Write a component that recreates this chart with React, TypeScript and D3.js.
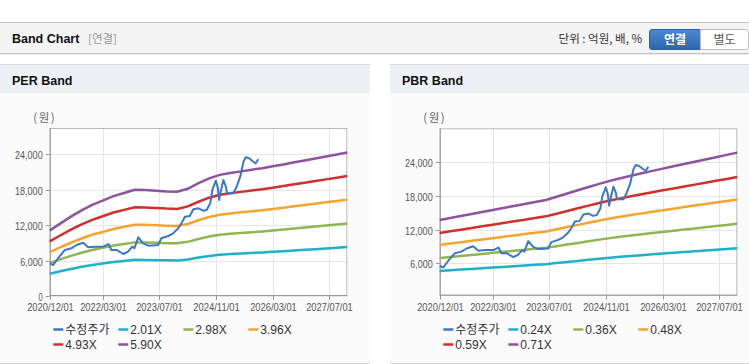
import * as d3 from 'd3';

// quarterly band base values (EPS / BPS)
const bandDates = [
  '2020-12-01', '2021-03-01', '2021-06-01', '2021-09-01', '2021-12-01',
  '2022-03-01', '2022-06-01', '2022-09-01', '2022-12-01', '2023-03-01',
  '2023-06-01', '2023-09-01', '2023-12-01', '2024-03-01', '2024-06-01',
  '2024-09-01', '2024-12-01', '2025-03-01', '2025-06-01', '2025-09-01',
  '2025-12-01', '2026-03-01', '2026-06-01', '2026-09-01', '2026-12-01',
  '2027-03-01', '2027-06-01', '2027-09-01', '2027-12-01',
];
const epsValues = [
  1880, 2080, 2280, 2460, 2620, 2740, 2870, 2960, 3050, 3045,
  3025, 3005, 2995, 3080, 3240, 3380, 3480, 3535, 3580, 3630,
  3670, 3725, 3780, 3840, 3895, 3950, 4010, 4065, 4125,
];
const bpsValues = [
  19324, 19830, 20330, 20830, 21330, 21840, 22340, 22840, 23340, 23840,
  24345, 25150, 25960, 26770, 27580, 28390, 29130, 29780, 30400, 31030,
  31640, 32210, 32780, 33360, 33930, 34500, 35080, 35650, 36220,
];
const perMultiples = [2.01, 2.98, 3.96, 4.93, 5.9];
const pbrMultiples = [0.24, 0.36, 0.48, 0.59, 0.71];

// 수정주가
const priceDates = [
  '2020-12-01', '2021-01-01', '2021-02-10', '2021-04-10', '2021-06-05',
  '2021-07-20', '2021-09-15', '2021-10-28', '2021-12-25', '2022-03-05',
  '2022-04-20', '2022-05-15', '2022-06-28', '2022-08-25', '2022-10-05',
  '2022-11-10', '2022-11-28', '2023-01-01', '2023-02-12', '2023-03-28',
  '2023-06-20', '2023-07-18', '2023-09-15', '2023-10-28', '2023-12-10',
  '2024-01-10', '2024-02-05', '2024-03-18', '2024-04-18', '2024-06-01',
  '2024-07-12', '2024-08-10', '2024-09-10', '2024-09-28', '2024-10-28',
  '2024-11-15', '2024-11-25', '2024-12-12', '2025-01-01', '2025-01-22',
  '2025-02-01', '2025-03-01', '2025-03-28', '2025-04-25', '2025-05-25',
  '2025-06-22', '2025-07-12', '2025-08-10', '2025-09-15', '2025-10-05',
  '2025-10-28',
];
const priceValues = [
  5540, 5250, 6390, 7800, 8080, 8640, 9040, 8250, 8360, 8360,
  8810, 7800, 7800, 7120, 7510, 8360, 8080, 9950, 8930, 8530,
  8640, 9780, 10170, 10630, 11470, 12430, 13440, 13560, 14690, 14860,
  14460, 14580, 15710, 17970, 19540, 18250, 16270, 17970, 19660, 18530,
  17410, 17410, 17410, 18530, 20220, 22760, 23510, 23340, 22760, 22490,
  23170,
];

const xTickLabels = ['2020/12/01', '2022/03/01', '2023/07/01', '2024/11/01', '2026/03/01', '2027/07/01'];
const perYTicks = [0, 6000, 12000, 18000, 24000];
const pbrYTicks = [6000, 12000, 18000, 24000];

const priceColor = '#3a78c6';
const bandColors = ['#1fb1c7', '#8fb653', '#f5a52f', '#d12f2b', '#8f52a1'];

const parseDay = d3.utcParse('%Y-%m-%d');
const parseTick = d3.utcParse('%Y/%m/%d');
const numFmt = d3.format(',');

const LATIN = '"Liberation Sans", Arial, sans-serif';
const KR = '"Noto Sans CJK KR", "Liberation Sans", sans-serif';

// narrow tick text: squeeze Liberation Sans to the width of the original font
const tickWidth = (s: string) =>
  s.split('').reduce((w, c) => w + (c === ',' ? 2.7 : c === '/' ? 3 : 5.2), 0) - 1;

type Plot = { x0: number; x1: number; y0: number; y1: number };

function BandPanel({
  left, width, title, plot, yDomain, yTicks, base, multiples,
}: {
  left: number; width: number; title: string; plot: Plot;
  yDomain: [number, number]; yTicks: number[]; base: number[]; multiples: number[];
}) {
  const x = d3.scaleUtc()
    .domain([parseDay('2020-12-01')!, parseDay('2027-12-01')!])
    .range([plot.x0, plot.x1]);
  const y = d3.scaleLinear().domain(yDomain).range([plot.y1, plot.y0]);

  const line = d3.line<[Date, number]>()
    .x(d => x(d[0]))
    .y(d => y(d[1]));

  const bandDays = bandDates.map(d => parseDay(d)!);
  const bands = multiples.map(m => bandDays.map((d, i) => [d, base[i] * m] as [Date, number]));
  const price = priceDates.map((d, i) => [parseDay(d)!, priceValues[i]] as [Date, number]);

  const legend = [
    { label: '수정주가', color: priceColor },
    ...multiples.map((m, i) => ({ label: `${m.toFixed(2)}X`, color: bandColors[i] })),
  ];

  return (
    <g>
      {/* header */}
      <rect x={left} y={64} width={width} height={29} fill="#edf1f6" />
      <line x1={left} x2={left + width} y1={64.5} y2={64.5} stroke="#d8d8d8" />
      <text x={left + 12} y={85} fontFamily={LATIN} fontWeight="bold" fontSize={12.5} fill="#111">{title}</text>
      {/* body */}
      <rect x={left} y={93} width={width} height={270} fill="#fbfbfc" />
      <line x1={left} x2={left + width} y1={363.5} y2={363.5} stroke="#d5d5d5" />

      <text x={plot.x0 - 5} y={122} textAnchor="middle" fontFamily={KR} fontSize={11.5} letterSpacing={1.5} fill="#666">(원)</text>

      <rect x={plot.x0} y={plot.y0} width={plot.x1 - plot.x0} height={plot.y1 - plot.y0} fill="#fff" />

      {/* grid */}
      {yTicks.map(t => (
        <line key={'gy' + t} x1={plot.x0} x2={plot.x1} y1={Math.round(y(t)) + 0.5} y2={Math.round(y(t)) + 0.5} stroke="#e6e6e6" />
      ))}
      {xTickLabels.map(t => {
        const px = Math.round(x(parseTick(t)!)) + 0.5;
        return <line key={'gx' + t} x1={px} x2={px} y1={plot.y0} y2={plot.y1} stroke="#e6e6e6" />;
      })}

      {/* border */}
      <rect x={plot.x0 + 0.5} y={plot.y0 + 0.5} width={plot.x1 - plot.x0 - 1} height={plot.y1 - plot.y0 - 1} fill="none" stroke="#b8b8b8" />

      {/* ticks & labels */}
      {yTicks.map(t => {
        const py = Math.round(y(t)) + 0.5;
        const s = numFmt(t);
        return (
          <g key={'ty' + t}>
            <line x1={plot.x0 - 4} x2={plot.x0} y1={py} y2={py} stroke="#999" />
            <text x={plot.x0 - 7} y={py + 4} textAnchor="end" fontFamily={LATIN} fontSize={11} fill="#555"
              textLength={tickWidth(s)} lengthAdjust="spacingAndGlyphs">{s}</text>
          </g>
        );
      })}
      {xTickLabels.map(t => {
        const px = Math.round(x(parseTick(t)!)) + 0.5;
        return (
          <g key={'tx' + t}>
            <line x1={px} x2={px} y1={plot.y1} y2={plot.y1 + 4} stroke="#999" />
            <text x={px} y={plot.y1 + 15} textAnchor="middle" fontFamily={LATIN} fontSize={11} fill="#555"
              textLength={tickWidth(t)} lengthAdjust="spacingAndGlyphs">{t}</text>
          </g>
        );
      })}
      <line x1={plot.x0 + 0.5} x2={plot.x0 + 0.5} y1={plot.y0} y2={plot.y1} stroke="#999" />
      <line x1={plot.x0} x2={plot.x1} y1={plot.y1 - 0.5} y2={plot.y1 - 0.5} stroke="#999" />

      {/* series */}
      {bands.map((b, i) => (
        <path key={'b' + i} d={line(b)!} fill="none" stroke={bandColors[i]} strokeWidth={2.5} />
      ))}
      <path d={line(price)!} fill="none" stroke={priceColor} strokeWidth={2} strokeLinejoin="round" />

      {/* legend */}
      {legend.map((it, i) => {
        const col = i % 4;
        const row = Math.floor(i / 4);
        const lx = plot.x0 + 3.6 + col * 65;
        const ly = 329.5 + row * 15;
        return (
          <g key={'lg' + i}>
            <line x1={lx} x2={lx + 10} y1={ly} y2={ly} stroke={it.color} strokeWidth={2.5} />
            <text x={lx + 12} y={ly + 4.5} fontFamily={i === 0 ? KR : LATIN} fontSize={12} fill="#333">{it.label}</text>
          </g>
        );
      })}
    </g>
  );
}

export default function App() {
  return (
    <svg width={749} height={364} style={{ position: 'absolute', left: 0, top: 0, background: '#fff' }}>
      <defs>
        <linearGradient id="btnBlue" x1="0" y1="0" x2="0" y2="1">
          <stop offset="0%" stopColor="#4a8ad2" />
          <stop offset="100%" stopColor="#2d66ad" />
        </linearGradient>
      </defs>

      {/* top header bar */}
      <rect x={0} y={22} width={749} height={31} fill="#f4f4f4" />
      <line x1={0} x2={749} y1={22.5} y2={22.5} stroke="#c6c6c6" />
      <line x1={0} x2={749} y1={53.5} y2={53.5} stroke="#c2c2c2" />
      <line x1={0} x2={749} y1={54.5} y2={54.5} stroke="#ececec" />
      <text x={12} y={43} fontFamily={LATIN} fontWeight="bold" fontSize={12.5} fill="#111">Band Chart</text>
      <text x={88} y={43} fontFamily={KR} fontSize={11.5} fill="#999">[연결]</text>
      <text x={642} y={43} textAnchor="end" fontFamily={KR} fontSize={11.5} fill="#333">단위 : 억원, 배, %</text>

      <path d="M652,29.5 H700.5 V49.5 H652 Q649.5,49.5 649.5,47 V32 Q649.5,29.5 652,29.5 Z" fill="url(#btnBlue)" stroke="#2b62a6" />
      <text x={675} y={43.5} textAnchor="middle" fontFamily={KR} fontWeight="bold" fontSize={12} fill="#fff">연결</text>
      <path d="M700.5,29.5 H745.5 Q748.5,29.5 748.5,32.5 V46.5 Q748.5,49.5 745.5,49.5 H700.5 Z" fill="#fff" stroke="#bdbdbd" />
      <text x={724.5} y={43.5} textAnchor="middle" fontFamily={KR} fontSize={12} fill="#555">별도</text>

      <BandPanel
        left={0}
        width={370}
        title="PER Band"
        plot={{ x0: 49.7, x1: 347.3, y0: 128, y1: 296 }}
        yDomain={[0, 28475]}
        yTicks={perYTicks}
        base={epsValues}
        multiples={perMultiples}
      />
      <BandPanel
        left={390}
        width={359}
        title="PBR Band"
        plot={{ x0: 439.7, x1: 737.3, y0: 128.3, y1: 295.7 }}
        yDomain={[230, 30050]}
        yTicks={pbrYTicks}
        base={bpsValues}
        multiples={pbrMultiples}
      />
    </svg>
  );
}
